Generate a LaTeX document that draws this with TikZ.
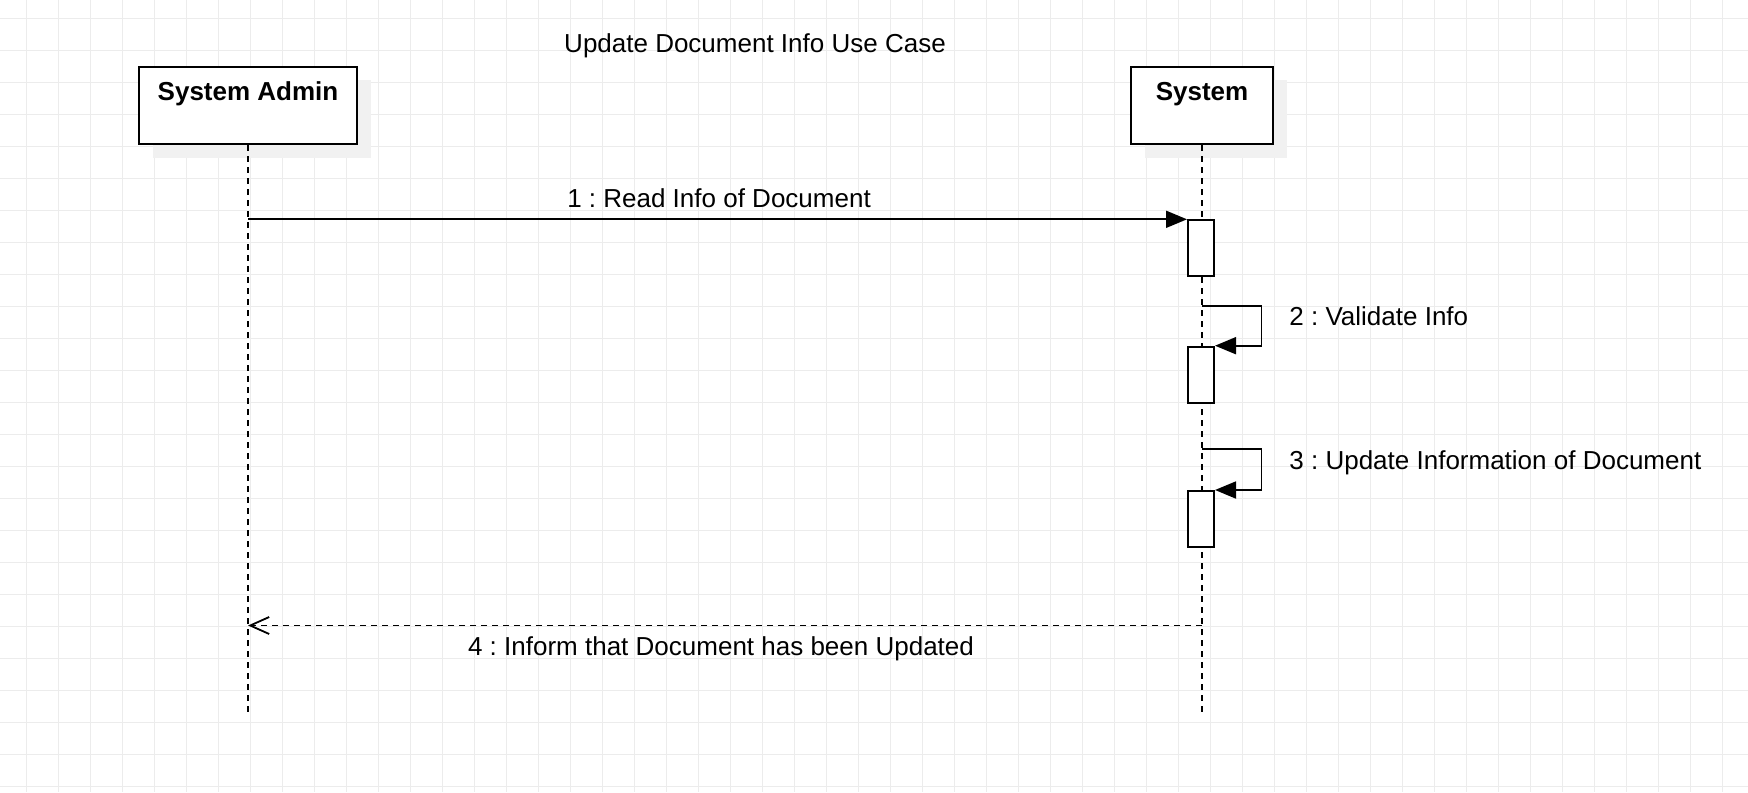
\documentclass[tikz,border=0pt]{standalone}
\usepackage{fontspec}
\setmainfont{Liberation Sans}
\usetikzlibrary{arrows.meta,shadows,calc}
\definecolor{gridc}{RGB}{236,236,236}
\definecolor{shadowc}{RGB}{241,241,241}
\frenchspacing
\begin{document}
\begin{tikzpicture}[x=0.5pt,y=-0.5pt,
  font=\fontsize{13pt}{15pt}\selectfont,
  gridline/.style={draw=gridc, line width=0.5pt},
  actor/.style={draw, line width=1pt, fill=white, minimum width=109pt, minimum height=38.5pt,
    inner sep=0pt, anchor=north west,
    drop shadow={shadow xshift=6.75pt, shadow yshift=-6.75pt, fill=shadowc, opacity=1}},
  actorlbl/.style={font=\fontsize{13pt}{15pt}\selectfont\bfseries, anchor=base, inner sep=0pt},
  actbox/.style={draw, line width=1pt, fill=white, minimum width=13pt, minimum height=28pt,
    inner sep=0pt, anchor=north},
  lifeline/.style={line width=0.9pt, dash pattern=on 3.2pt off 2.3pt},
  msg/.style={line width=0.9pt, -{Triangle[length=10.5pt,width=8.5pt]}},
  reply/.style={line width=0.9pt, dash pattern=on 3.2pt off 2.3pt, -{Straight Barb[length=9.5pt,width=8.5pt]}},
  lbl/.style={anchor=base, inner sep=0pt},
  lblw/.style={anchor=base west, inner sep=0pt}
]
\useasboundingbox (0,0) rectangle (1748,792);
% grid
\begin{scope}
\clip (0,0) rectangle (1748,792);
\foreach \i in {0,...,54} \draw[gridline] ({26.5+32*\i},0) -- ({26.5+32*\i},792);
\foreach \j in {0,...,24} \draw[gridline] (0,{18.3+32*\j}) -- (1748,{18.3+32*\j});
\end{scope}

% title
\node[lbl] (title) at (755,52.3) {Update Document Info Use Case};

% actors
\node[actor] (admin) at (138,66) {};
\node[actor, minimum width=71pt] (sys) at (1130,66) {};
\node[actorlbl] (adminlbl) at ($(admin.north)+(0,34)$) {System Admin};
\node[actorlbl] (syslbl) at ($(sys.north)+(0,34)$) {System};

% lifeline ends
\coordinate (adminend) at (admin.south |- 0,715);
\coordinate (sysend) at (sys.south |- 0,715);
\draw[lifeline] (admin.south) -- (adminend);
\draw[lifeline] (sys.south) -- (sysend);

% activation boxes
\node[actbox] (act1) at (1201,219.3) {};
\node[actbox] (act2) at (1201,345.7) {};
\node[actbox] (act3) at (1201,490) {};

% message 1
\coordinate (m1s) at (admin.south |- act1.north);
\draw[msg] (m1s) -- (act1.north west);
\node[lbl] (m1lbl) at (719,207.7) {1 : Read Info of Document};

% message 2 (self)
\coordinate (m2s) at (sys.south |- 0,305.7);
\draw[msg] (m2s) -- ++(59.5,0) |- (act2.north east);
\node[lblw] (m2lbl) at (1289,325.7) {2 : Validate Info};

% message 3 (self)
\coordinate (m3s) at (sys.south |- 0,449.3);
\draw[msg] (m3s) -- ++(59.5,0) |- (act3.north east);
\node[lblw] (m3lbl) at (1289,469) {3 : Update Information of Document};

% message 4 (reply)
\coordinate (m4s) at (sys.south |- 0,625.5);
\coordinate (m4e) at (admin.south |- 0,625.5);
\draw[reply] (m4s) -- (m4e);
\node[lbl] (m4lbl) at (721,655) {4 : Inform that Document has been Updated};
\end{tikzpicture}
\end{document}
